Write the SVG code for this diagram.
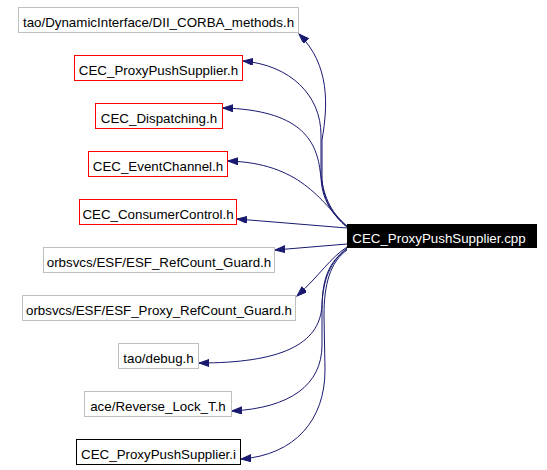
<svg xmlns="http://www.w3.org/2000/svg" width="547" height="470" viewBox="0 0 547 470">
<defs>
<style>
.n rect{fill:#ffffff;stroke-width:1}
.g rect{stroke:#bfbfbf}
.r rect{stroke:#ff0000}
.k rect{stroke:#000000}
text{font-family:"Liberation Sans",Arial,sans-serif;font-size:13.33px;fill:#000000;text-anchor:middle}
.e path{fill:none;stroke:#191970;stroke-width:1}
</style>
<marker id="ah" markerUnits="userSpaceOnUse" markerWidth="11" markerHeight="8" refX="10" refY="3.5" orient="auto">
<path d="M0,0 L10,3.5 L0,7 z" fill="#191970" stroke="#191970" stroke-width="1"/>
</marker>
</defs>
<rect x="0" y="0" width="547" height="470" fill="#ffffff"/>
<g id="edges" class="e">
<path marker-end="url(#ah)" d="M347,227 C333,215 322,200 322,175 L322,140 C328,105 330,65 299,34"/>
<path marker-end="url(#ah)" d="M347,227 C333,215 321,200 321,175 L321,135 C321,95 290,65 243,61"/>
<path marker-end="url(#ah)" d="M347,226 C330,212 323,195 320,170 C316,140 300,110 223,108"/>
<path marker-end="url(#ah)" d="M347,227 C320,200 300,163 228,161"/>
<path marker-end="url(#ah)" d="M347,228 L237,219"/>
<path marker-end="url(#ah)" d="M347,244 L275,250"/>
<path marker-end="url(#ah)" d="M347,247 C330,258 320,275 297,296"/>
<path marker-end="url(#ah)" d="M347,248 C330,262 323,280 322,305 C320,345 280,363 199,363"/>
<path marker-end="url(#ah)" d="M347,249 C328,262 322,280 322,310 L322,345 C322,385 290,408 232,411"/>
<path marker-end="url(#ah)" d="M347,250 C330,262 324,285 324,315 L325,370 C325,420 295,455 241,459"/>
</g>
<g id="n_dii" class="n g"><rect x="18.5" y="7.5" width="280" height="25"/><text x="158.5" y="26.5">tao/DynamicInterface/DII_CORBA_methods.h</text></g>
<g id="n_pps_h" class="n r"><rect x="74.5" y="55.5" width="168" height="25"/><text x="158.5" y="74.5">CEC_ProxyPushSupplier.h</text></g>
<g id="n_dispatching" class="n r"><rect x="95.5" y="103.5" width="127" height="25"/><text x="159" y="122.5">CEC_Dispatching.h</text></g>
<g id="n_eventchannel" class="n r"><rect x="88.5" y="151.5" width="139" height="25"/><text x="158" y="170.5">CEC_EventChannel.h</text></g>
<g id="n_consumercontrol" class="n r"><rect x="79.5" y="199.5" width="157" height="25"/><text x="158" y="218.5">CEC_ConsumerControl.h</text></g>
<g id="n_refcount" class="n g"><rect x="43.5" y="247.5" width="231" height="25"/><text x="159" y="266.5">orbsvcs/ESF/ESF_RefCount_Guard.h</text></g>
<g id="n_proxy_refcount" class="n g"><rect x="22.5" y="295.5" width="273" height="25"/><text x="159" y="314.5">orbsvcs/ESF/ESF_Proxy_RefCount_Guard.h</text></g>
<g id="n_debug" class="n g"><rect x="118.5" y="343.5" width="80" height="25"/><text x="158.5" y="362.5">tao/debug.h</text></g>
<g id="n_reverse" class="n g"><rect x="84.5" y="391.5" width="147" height="25"/><text x="158" y="410.5">ace/Reverse_Lock_T.h</text></g>
<g id="n_pps_i" class="n k"><rect x="76.5" y="439.5" width="164" height="25"/><text x="158.5" y="458.5">CEC_ProxyPushSupplier.i</text></g>
<g id="n_cpp"><rect x="347" y="224" width="190" height="24" fill="#000000"/><text x="439" y="243" style="fill:#ffffff">CEC_ProxyPushSupplier.cpp</text></g>
</svg>
